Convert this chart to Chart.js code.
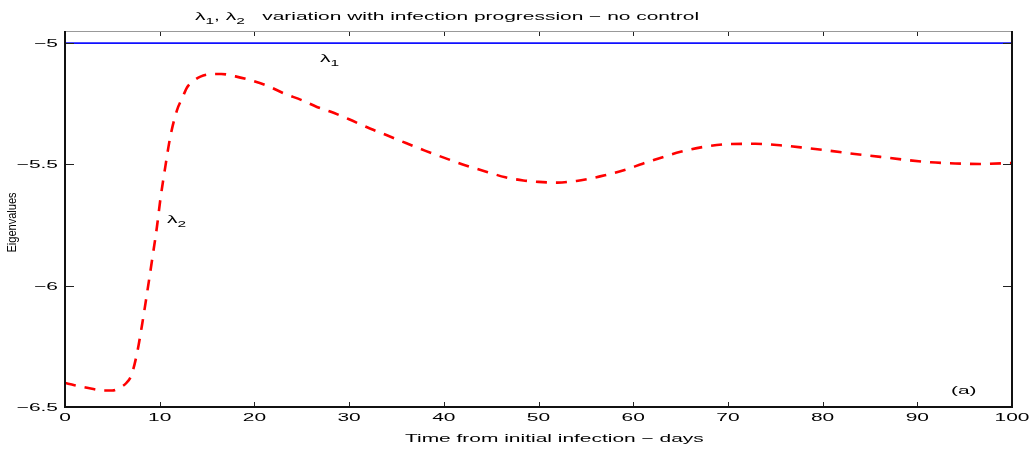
<!DOCTYPE html>
<html>
<head>
<meta charset="utf-8">
<script src="https://cdn.jsdelivr.net/npm/chart.js@4/dist/chart.umd.min.js"></script>
<style>
  html, body { margin: 0; padding: 0; background: #fff; }
  canvas { display: block; }
</style>
</head>
<body>
<canvas id="eig" width="1034" height="450"></canvas>
<script>
// Time from initial infection (days) and the second eigenvalue along it
const tDays = [
  0, 1, 2, 3, 4, 5, 5.8, 6.5, 7.0, 7.6, 8.1, 8.66, 9.19, 9.71, 10.06, 10.59,
  11.12, 11.83, 12.4, 12.9, 13.5, 14.3, 15.3, 16.5, 18.0, 19.6, 21.5, 23.1,
  25, 26.6, 28, 30, 32.2, 34, 36, 38, 40, 42, 44.9, 46.5, 48.4, 50, 52, 54,
  55.5, 57, 59, 61, 63.2, 65, 67.4, 70.3, 72.9, 75.5, 78.2, 80.8, 83.4, 86.1,
  88.7, 91.4, 94, 96.6, 100
];
const lambda2 = [
  -6.401, -6.410, -6.418, -6.426, -6.432, -6.432, -6.420, -6.400, -6.370, -6.280,
  -6.170, -6.032, -5.895, -5.757, -5.647, -5.510, -5.386, -5.276, -5.225, -5.182,
  -5.158, -5.138, -5.128, -5.127, -5.137, -5.153, -5.178, -5.207, -5.235, -5.263,
  -5.282, -5.314, -5.352, -5.380, -5.412, -5.443, -5.472, -5.500, -5.535, -5.553,
  -5.566, -5.572, -5.575, -5.568, -5.558, -5.545, -5.524, -5.497, -5.469, -5.448,
  -5.428, -5.416, -5.415, -5.421, -5.432, -5.444, -5.457, -5.469, -5.481, -5.491,
  -5.496, -5.498, -5.494
];
// First eigenvalue stays constant
const lambda1Days = [0, 100];
const lambda1 = [-5, -5];

// Axis ticks
const xTickValues = [0, 10, 20, 30, 40, 50, 60, 70, 80, 90, 100];
const xTickLabels = ['0', '10', '20', '30', '40', '50', '60', '70', '80', '90', '100'];
const yTickValues = [-5, -5.5, -6, -6.5];
const yTickLabels = ['\u22125', '\u22125.5', '\u22126', '\u22126.5'];

const FONT = '"Liberation Sans", Arial, Helvetica, sans-serif';
const SX = 1.82;      // horizontal stretch of the axis text
const SIZE = 11.5;
const SUB = 8.5;

function toPoints(xs, ys) {
  return xs.map((x, i) => ({ x: x, y: ys[i] }));
}

// Draw a sequence of text runs (with optional subscripts), stretched horizontally
function drawRuns(ctx, runs, x, y, align) {
  ctx.save();
  ctx.fillStyle = '#000';
  ctx.textAlign = 'left';
  ctx.textBaseline = 'alphabetic';
  let total = 0;
  const widths = runs.map(r => {
    ctx.font = (r.sub ? SUB : SIZE) + 'px ' + FONT;
    const w = ctx.measureText(r.t).width * SX;
    total += w;
    return w;
  });
  let cx = align === 'center' ? x - total / 2 : align === 'right' ? x - total : x;
  runs.forEach((r, i) => {
    ctx.font = (r.sub ? SUB : SIZE) + 'px ' + FONT;
    ctx.save();
    ctx.translate(cx, y + (r.sub ? 3.5 : 0));
    ctx.scale(SX, 1);
    ctx.fillText(r.t, 0, 0);
    ctx.restore();
    cx += widths[i];
  });
  ctx.restore();
}

const axesFrame = {
  id: 'axesFrame',
  afterDatasetsDraw(chart) {
    const ctx = chart.ctx;
    const a = chart.chartArea;
    const xs = chart.scales.x, ys = chart.scales.y;

    ctx.save();
    // ticks, drawn inward on all four sides
    ctx.strokeStyle = '#222';
    ctx.lineWidth = 1;
    ctx.beginPath();
    xTickValues.forEach(v => {
      const px = Math.round(xs.getPixelForValue(v)) + 0.5;
      ctx.moveTo(px, a.bottom); ctx.lineTo(px, a.bottom - 5);
      ctx.moveTo(px, a.top); ctx.lineTo(px, a.top + 5);
    });
    yTickValues.forEach(v => {
      const py = Math.round(ys.getPixelForValue(v)) + 0.5;
      ctx.moveTo(a.left, py); ctx.lineTo(a.left + 9, py);
      ctx.moveTo(a.right, py); ctx.lineTo(a.right - 9, py);
    });
    ctx.stroke();

    // box
    ctx.strokeStyle = '#999';
    ctx.lineWidth = 1;
    ctx.beginPath();
    ctx.moveTo(a.left, a.top + 0.5); ctx.lineTo(a.right, a.top + 0.5);
    ctx.stroke();
    ctx.strokeStyle = '#111';
    ctx.lineWidth = 2;
    ctx.beginPath();
    ctx.moveTo(a.left, a.top); ctx.lineTo(a.left, a.bottom);
    ctx.lineTo(a.right, a.bottom); ctx.lineTo(a.right, a.top);
    ctx.stroke();
    ctx.restore();

    // tick labels
    xTickValues.forEach((v, i) => {
      drawRuns(ctx, [{ t: xTickLabels[i] }], xs.getPixelForValue(v), a.bottom + 14, 'center');
    });
    yTickValues.forEach((v, i) => {
      drawRuns(ctx, [{ t: yTickLabels[i] }], a.left - 7, ys.getPixelForValue(v) + 4, 'right');
    });

    // title
    drawRuns(ctx, [
      { t: '\u03bb' }, { t: '1', sub: true }, { t: ', \u03bb' }, { t: '2', sub: true },
      { t: '   variation with infection progression \u2212 no control' }
    ], 195, 20, 'left');

    // x axis title
    drawRuns(ctx, [{ t: 'Time from initial infection \u2212 days' }], 405, 442, 'left');

    // y axis title (rotated, not stretched)
    ctx.save();
    ctx.fillStyle = '#000';
    ctx.font = '12px ' + FONT;
    ctx.textAlign = 'center';
    ctx.textBaseline = 'alphabetic';
    ctx.translate(16, 222.5);
    ctx.rotate(-Math.PI / 2);
    ctx.scale(0.92, 1);
    ctx.fillText('Eigenvalues', 0, 0);
    ctx.restore();

    // curve labels
    drawRuns(ctx, [{ t: '\u03bb' }, { t: '1', sub: true }], 320, 62, 'left');
    drawRuns(ctx, [{ t: '\u03bb' }, { t: '2', sub: true }], 167, 223, 'left');
    drawRuns(ctx, [{ t: '(a)' }], 951, 394, 'left');
  }
};

new Chart(document.getElementById('eig'), {
  type: 'line',
  data: {
    datasets: [
      {
        label: '\u03bb1',
        data: toPoints(lambda1Days, lambda1),
        borderColor: '#1010ff',
        borderWidth: 1.6,
        pointRadius: 0,
        tension: 0
      },
      {
        label: '\u03bb2',
        data: toPoints(tDays, lambda2),
        borderColor: '#ff0000',
        borderWidth: 2.6,
        borderDash: [11, 9],
        pointRadius: 0,
        cubicInterpolationMode: 'monotone'
      }
    ]
  },
  options: {
    responsive: false,
    animation: false,
    layout: { padding: { left: 65, right: 22, top: 31, bottom: 43 } },
    scales: {
      x: { type: 'linear', min: 0, max: 100, display: false },
      y: { type: 'linear', min: -6.5, max: -4.95, display: false }
    },
    plugins: {
      legend: { display: false },
      tooltip: { enabled: false },
      title: { display: false }
    }
  },
  plugins: [axesFrame]
});
</script>
</body>
</html>
